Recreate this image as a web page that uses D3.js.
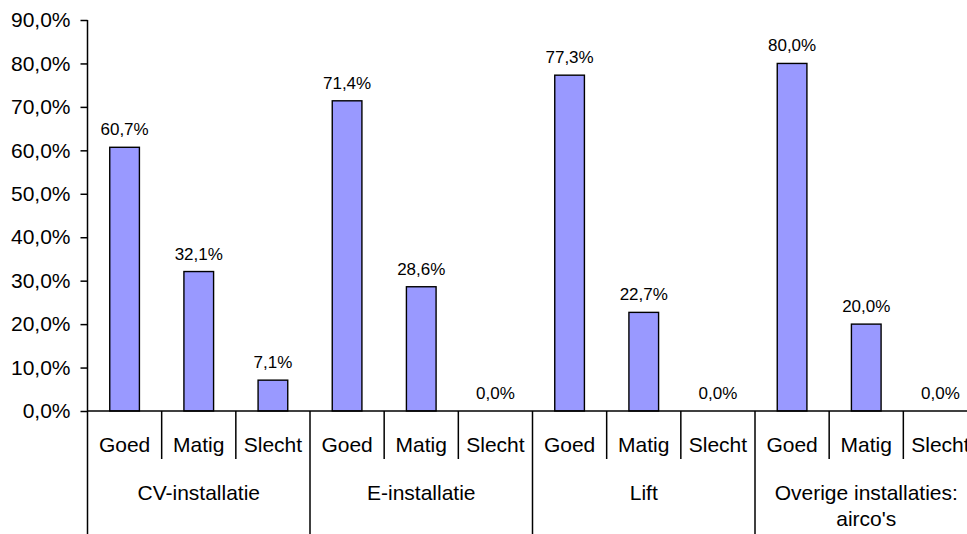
<!DOCTYPE html>
<html>
<head>
<meta charset="utf-8">
<script src="https://cdn.jsdelivr.net/npm/d3@7"></script>
<style>
  html, body { margin: 0; padding: 0; background: #fff; }
  svg { display: block; font-family: "Liberation Sans", Arial, sans-serif; }
</style>
</head>
<body>
<svg id="chart" width="967" height="534"></svg>
<script>
// ---- data ----
const groups = ["CV-installatie", "E-installatie", "Lift", "Overige installaties: airco's"];
const groupLines = [["CV-installatie"], ["E-installatie"], ["Lift"], ["Overige installaties:", "airco's"]];
const ratings = ["Goed", "Matig", "Slecht"];
const cvValues = [0.607, 0.321, 0.071];
const eValues = [0.714, 0.286, 0.000];
const liftValues = [0.773, 0.227, 0.000];
const aircoValues = [0.800, 0.200, 0.000];
const yTicks = [0, 0.1, 0.2, 0.3, 0.4, 0.5, 0.6, 0.7, 0.8, 0.9];

const seriesByGroup = [cvValues, eValues, liftValues, aircoValues];
const rows = [];
groups.forEach((g, gi) => ratings.forEach((r, ri) => rows.push({ key: g + "|" + r, group: g, gi, rating: r, value: seriesByGroup[gi][ri] })));

const nl = d3.formatLocale({ decimal: ",", thousands: ".", grouping: [3], currency: ["€", ""] });
const fmt = nl.format(".1%");

const svg = d3.select("#chart");
const x0 = 87.5, x1 = 977.5, yTop = 20, yBase = 411;

const x = d3.scaleBand().domain(rows.map(d => d.key)).range([x0, x1]).padding(0);
const y = d3.scaleLinear().domain([0, 0.9]).range([yBase, yTop]);
const bw = x.bandwidth();
const barW = bw / 2.5;

// bars
svg.append("g").selectAll("rect").data(rows).join("rect")
  .attr("x", d => x(d.key) + (bw - barW) / 2)
  .attr("y", d => y(d.value))
  .attr("width", barW)
  .attr("height", d => yBase - y(d.value))
  .attr("fill", "#9999FF")
  .attr("stroke", d => d.value > 0 ? "#000" : "none")
  .attr("stroke-width", 1.4);

// data labels
svg.append("g").selectAll("text").data(rows).join("text")
  .attr("x", d => x(d.key) + bw / 2)
  .attr("y", d => y(d.value) - 12)
  .attr("text-anchor", "middle")
  .attr("font-size", 17)
  .attr("fill", "#000")
  .text(d => fmt(d.value));

// y axis
const yAxis = d3.axisLeft(y).tickValues(yTicks).tickFormat(fmt).tickSize(7).tickPadding(10);
const gy = svg.append("g").attr("transform", `translate(${x0},0)`).call(yAxis);
gy.select(".domain").remove();
gy.selectAll(".tick line").attr("stroke", "#000").attr("stroke-width", 1.5);
gy.selectAll(".tick text").attr("font-size", 21).attr("fill", "#000").attr("font-family", "Liberation Sans, Arial, sans-serif");
svg.append("line").attr("x1", x0).attr("x2", x0).attr("y1", yTop).attr("y2", 534)
  .attr("stroke", "#000").attr("stroke-width", 1.5);

// x axis baseline
svg.append("line").attr("x1", x0).attr("x2", 967).attr("y1", yBase).attr("y2", yBase)
  .attr("stroke", "#000").attr("stroke-width", 1.5);

// dividers between subcategories
const gx = svg.append("g");
rows.forEach((d, i) => {
  if (i === 0) return;
  const xx = x(d.key);
  const isGroupEdge = d.gi !== rows[i - 1].gi;
  gx.append("line").attr("x1", xx).attr("x2", xx).attr("y1", yBase).attr("y2", isGroupEdge ? 534 : 459)
    .attr("stroke", "#000").attr("stroke-width", 1.5);
});
// subcategory labels
gx.selectAll("text.sub").data(rows).join("text").attr("class", "sub")
  .attr("x", d => x(d.key) + bw / 2)
  .attr("y", 452)
  .attr("text-anchor", "middle")
  .attr("font-size", 21)
  .attr("fill", "#000")
  .text(d => d.rating);

// group labels
groups.forEach((g, gi) => {
  const gr = rows.filter(d => d.gi === gi);
  const cx = (x(gr[0].key) + x(gr[gr.length - 1].key) + bw) / 2;
  const t = gx.append("text").attr("x", cx).attr("y", 500).attr("text-anchor", "middle")
    .attr("font-size", 21).attr("fill", "#000");
  groupLines[gi].forEach((line, li) => {
    t.append("tspan").attr("x", cx).attr("dy", li === 0 ? 0 : 26).text(line);
  });
});
</script>
</body>
</html>
